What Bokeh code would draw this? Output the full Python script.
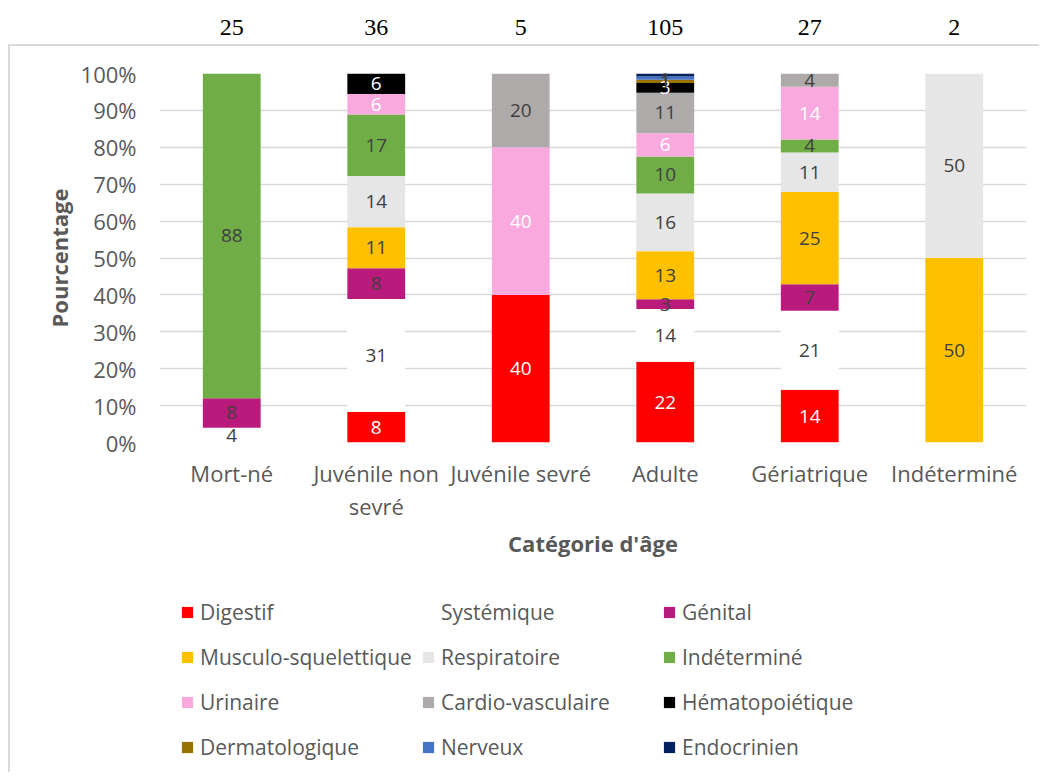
from bokeh.plotting import figure
from bokeh.models import (ColumnDataSource, FactorRange, Legend, LegendItem, CategoricalAxis,
                          PrintfTickFormatter, FixedTicker, Range1d, CustomJSTickFormatter)
from bokeh.layouts import column
from bokeh.core.properties import value
from bokeh.embed import file_html
from bokeh.resources import INLINE

categories = ["Mort-né", "Juvénile non sevré", "Juvénile sevré", "Adulte", "Gériatrique", "Indéterminé"]
counts = [25, 36, 5, 105, 27, 2]

series_names = ["Digestif", "Systémique", "Génital", "Musculo-squelettique", "Respiratoire",
                "Indéterminé", "Urinaire", "Cardio-vasculaire", "Hématopoiétique",
                "Dermatologique", "Nerveux", "Endocrinien"]
digestif = [0, 8.33, 40, 21.9, 14.29, 0]
systemique = [4, 30.56, 0, 14.3, 21.43, 0]
genital = [8, 8.33, 0, 2.6, 7.14, 0]
musculo = [0, 11.11, 0, 13.0, 25.0, 50]
respiratoire = [0, 13.89, 0, 15.7, 10.71, 50]
indetermine = [88, 16.67, 0, 10.0, 3.57, 0]
urinaire = [0, 5.56, 40, 6.3, 14.29, 0]
cardio = [0, 0, 20, 11.0, 3.57, 0]
hemato = [0, 5.56, 0, 2.6, 0, 0]
dermato = [0, 0, 0, 0.9, 0, 0]
nerveux = [0, 0, 0, 0.9, 0, 0]
endocrinien = [0, 0, 0, 0.8, 0, 0]
series_values = [digestif, systemique, genital, musculo, respiratoire, indetermine,
                 urinaire, cardio, hemato, dermato, nerveux, endocrinien]
colors = ["#FF0000", "#FFFFFF", "#BB1A7D", "#FFC000", "#E6E6E6", "#70AD47",
          "#FAA9DF", "#AEAAAA", "#000000", "#997300", "#4472C4", "#002060"]
label_colors = ["#FFFFFF", "#404040", "#404040", "#404040", "#404040", "#404040",
                "#FFFFFF", "#404040", "#FFFFFF", "#404040", "#404040", "#404040"]
y_ticks = [0, 10, 20, 30, 40, 50, 60, 70, 80, 90, 100]
wrapped_category = "Juvénile non sevré"
wrap_first, wrap_second = "Juvénile non", "sevré"

FONT = "Open Sans"
GRAY = "#595959"
BORDER = {"border-left": "2px solid #d9d9d9", "margin-left": "8px"}
NOBORDER = {"border-left": "2px solid transparent", "margin-left": "8px"}

x_range = FactorRange(factors=categories, range_padding=0)

# ---- top figure: counts ----
top = figure(width=1031, height=44, x_range=x_range, y_range=Range1d(0, 1),
             output_backend="svg", toolbar_location=None,
             x_axis_location=None, y_axis_location=None,
             min_border_left=149, min_border_right=15, min_border_top=0, min_border_bottom=0,
             styles=dict(NOBORDER))
top.outline_line_color = None
top.xgrid.visible = False
top.ygrid.visible = False
top.text(x=categories, y=[0.5] * len(categories), text=[str(c) for c in counts],
         text_align="center", text_baseline="middle", text_color="#000000", y_offset=5,
         text_font=value("Liberation Serif"), text_font_size="24px")

# ---- main figure ----
keys = ["s%d" % i for i in range(len(series_names))]
data = {"x": categories}
for k, v in zip(keys, series_values):
    data[k] = v
src = ColumnDataSource(data)

main_styles = dict(BORDER)
main_styles["border-top"] = "2px solid #d9d9d9"
p = figure(width=1031, height=516, x_range=x_range, y_range=Range1d(0, 100),
           output_backend="svg", toolbar_location=None,
           min_border_left=149, min_border_right=15, min_border_top=27, min_border_bottom=120,
           styles=main_styles)
p.outline_line_color = None

renderers = p.vbar_stack(keys, x="x", width=0.4, color=colors, line_color=None, source=src)

# data labels
lx, ly, lt, lc = [], [], [], []
for j, cat in enumerate(categories):
    base = 0.0
    for i, vals in enumerate(series_values):
        v = vals[j]
        if v > 0:
            lx.append(cat)
            ly.append(base + v / 2.0)
            lt.append(str(int(round(v))))
            lc.append(label_colors[i])
        base += v
p.text(x=lx, y=ly, text=lt, text_color=lc, text_align="center", text_baseline="middle",
       text_font=value(FONT), text_font_size="19px")

# axes
p.yaxis.ticker = FixedTicker(ticks=y_ticks)
p.yaxis.formatter = PrintfTickFormatter(format="%d%%")
p.yaxis.axis_line_color = None
p.yaxis.major_tick_line_color = None
p.yaxis.minor_tick_line_color = None
p.yaxis.major_tick_out = 0
p.yaxis.major_label_standoff = 23
p.yaxis.major_label_text_font = FONT
p.yaxis.major_label_text_font_size = "22px"
p.yaxis.major_label_text_color = GRAY
p.yaxis.axis_label = "Pourcentage"
p.yaxis.axis_label_text_font = FONT
p.yaxis.axis_label_text_font_style = "bold"
p.yaxis.axis_label_text_font_size = "22px"
p.yaxis.axis_label_text_color = GRAY
p.yaxis.axis_label_standoff = 4

ax1 = p.xaxis[0]
ax1.axis_line_color = None
ax1.major_tick_line_color = None
ax1.major_tick_out = 0
ax1.major_label_standoff = 15
ax1.major_label_text_font = FONT
ax1.major_label_text_font_size = "22px"
ax1.major_label_text_color = GRAY
ax1.formatter = CustomJSTickFormatter(args=dict(w=wrapped_category, a=wrap_first),
                                      code="return tick == w ? a : tick;")

ax2 = CategoricalAxis(axis_line_color=None, major_tick_line_color=None, minor_tick_line_color=None,
                      major_tick_out=0, major_label_standoff=0,
                      major_label_text_font=FONT, major_label_text_font_size="22px",
                      major_label_text_color=GRAY,
                      formatter=CustomJSTickFormatter(args=dict(w=wrapped_category, b=wrap_second),
                                                      code="return tick == w ? b : ' ';"),
                      axis_label="Catégorie d'âge", axis_label_text_font=FONT,
                      axis_label_text_font_style="bold", axis_label_text_font_size="22px",
                      axis_label_text_color=GRAY, axis_label_standoff=4)
p.add_layout(ax2, "below")

p.xgrid.visible = False
p.ygrid.grid_line_color = "#D9D9D9"
p.ygrid.grid_line_width = 1.5

# ---- legend figure (same series, renderers hidden; only the legend is shown) ----
lf = figure(width=1031, height=212, x_range=x_range, y_range=Range1d(0, 1),
            output_backend="svg", toolbar_location=None,
            x_axis_location=None, y_axis_location=None,
            min_border_left=0, min_border_right=0, min_border_top=0, min_border_bottom=0,
            styles=dict(BORDER))
lf.outline_line_color = None
lf.xgrid.visible = False
lf.ygrid.visible = False
leg_renderers = lf.vbar_stack(keys, x="x", width=0.4, color=colors, line_color=None, source=src)
for r in leg_renderers:
    r.visible = False

items = [LegendItem(label=n, renderers=[r]) for n, r in zip(series_names, leg_renderers)]
legend = Legend(items=items, ncols=3, orientation="horizontal", location=(21, 6),
                glyph_width=14, glyph_height=14, label_standoff=6, label_width=214,
                label_height=38, spacing=7, padding=0, margin=0,
                border_line_color=None, background_fill_alpha=0,
                label_text_font=FONT, label_text_font_size="21px", label_text_color=GRAY)
lf.add_layout(legend, "center")

layout = column(top, p, lf, spacing=0)
open("out.html", "w").write(file_html(layout, INLINE))
